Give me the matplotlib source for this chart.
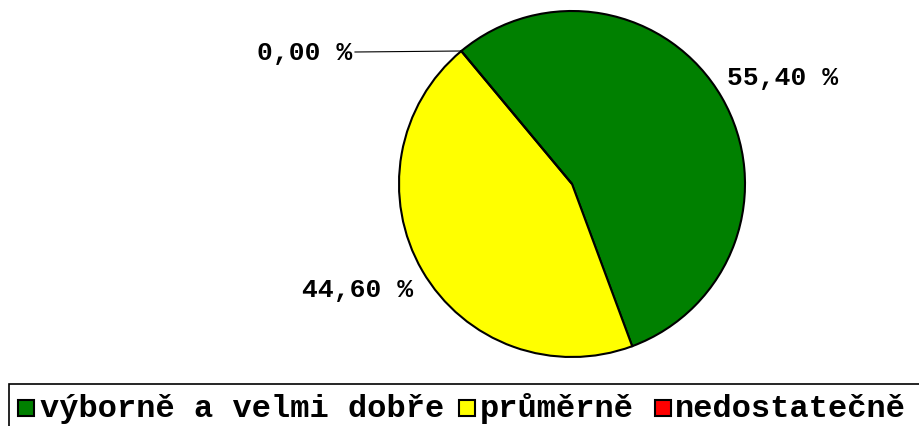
import matplotlib
matplotlib.use("Agg")
import matplotlib.pyplot as plt
from matplotlib.patches import Rectangle

categories = ["výborně a velmi dobře", "průměrně", "nedostatečně"]
values = [55.40, 44.60, 0.00]
colors = ["#008000", "#FFFF00", "#FF0000"]
labels = ["55,40 %", "44,60 %", "0,00 %"]

W, H = 920, 427
fig = plt.figure(figsize=(W / 100, H / 100), dpi=100)
font = "Liberation Mono"

cx, cy, r = 572, 185, 173
ax = fig.add_axes([(cx - r) / W, (H - cy - r) / H, 2 * r / W, 2 * r / H])
start = 129.8
wedges, _ = ax.pie(values, colors=colors, startangle=start, counterclock=False,
                   wedgeprops=dict(edgecolor="black", linewidth=1.5))
ax.set_xlim(-1, 1)
ax.set_ylim(-1, 1)
ax.set_aspect("equal")
ax.axis("off")

def px(x, y):
    return ((x - cx) / r, (cy - y) / r)

lfs = 19
ax.text(*px(727, 78), labels[0], ha="left", va="center", fontsize=lfs,
        fontweight="bold", family=font, clip_on=False)
ax.text(*px(413, 290), labels[1], ha="right", va="center", fontsize=lfs,
        fontweight="bold", family=font, clip_on=False)
ax.text(*px(352, 53), labels[2], ha="right", va="center", fontsize=lfs,
        fontweight="bold", family=font, clip_on=False)
x0, y0 = px(355, 53)
x1, y1 = px(461, 52)
ax.plot([x0, x1], [y0, y1], color="black", lw=0.8, clip_on=False)

# legend box (extends past the right and bottom edges)
fig.patches.append(Rectangle((9 / W, -0.1), 1.2, (H - 385) / H + 0.1,
                             transform=fig.transFigure, fill=False,
                             edgecolor="black", lw=1.2, figure=fig))

def fpx(x, y):
    return (x / W, (H - y) / H)

sq_x = [18, 459, 655]
tx_x = [40, 480, 675]
sq = 16
for c, name, sx, tx in zip(colors, categories, sq_x, tx_x):
    fig.patches.append(Rectangle(fpx(sx, 417), sq / W, sq / H,
                                 transform=fig.transFigure, facecolor=c,
                                 edgecolor="black", lw=1.5, figure=fig))
    fig.text(*fpx(tx, 417), name, ha="left", va="baseline", fontsize=23,
             fontweight="bold", family=font)

fig.savefig("out.png", dpi=100)
